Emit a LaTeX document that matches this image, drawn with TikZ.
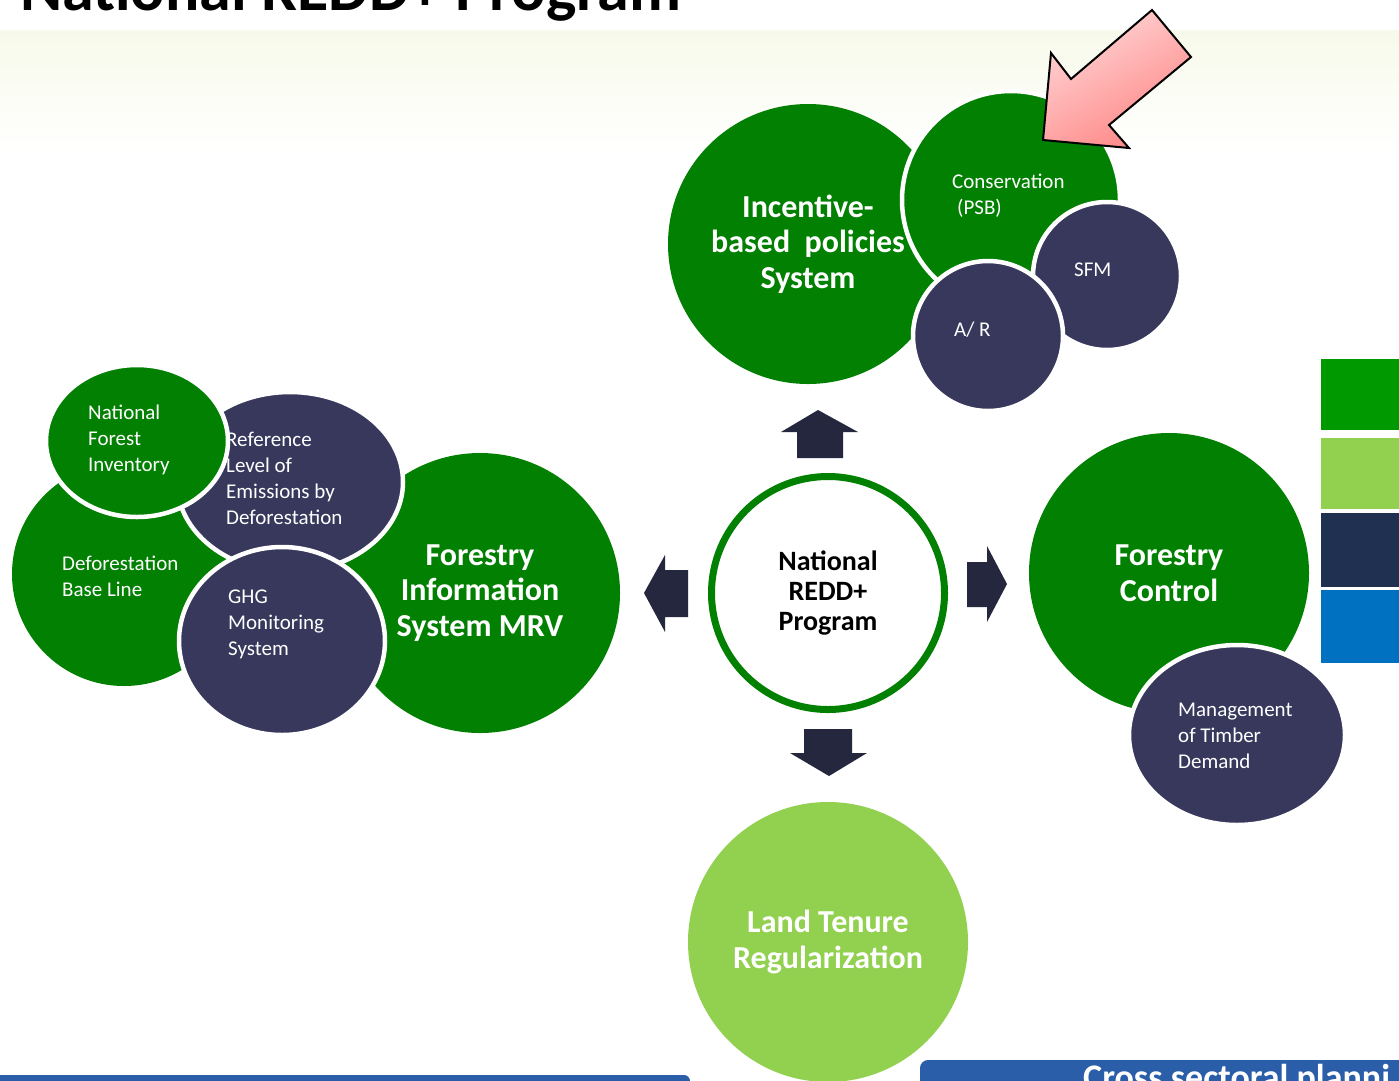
\documentclass[tikz,border=0pt]{standalone}
\usepackage{fontspec}
\setmainfont{Carlito}
\usetikzlibrary{shapes.geometric}
\definecolor{grn}{RGB}{2,128,2}
\definecolor{navy}{RGB}{55,56,92}
\definecolor{arrowc}{RGB}{37,39,63}
\definecolor{lgrn}{RGB}{146,208,80}
\definecolor{barg}{RGB}{0,153,0}
\definecolor{barn}{RGB}{31,48,80}
\definecolor{barb}{RGB}{0,112,192}
\definecolor{stripb}{RGB}{42,94,168}
\definecolor{bgA}{RGB}{247,250,234}
\definecolor{pinkA}{RGB}{255,214,214}
\definecolor{pinkB}{RGB}{255,134,134}
\tikzset{
  bub/.style={circle, inner sep=0pt, minimum size=#1},
  ebub/.style={ellipse, inner sep=0pt},
  wb/.style={draw=white, line width=4.5pt},
  small/.style={font=\fontsize{21}{26}\selectfont, text=white, align=left, inner sep=0pt, anchor=west},
  big/.style={font=\bfseries\fontsize{32}{35.5}\selectfont, text=white, align=center, inner sep=0pt},
  blockarrow/.style={fill=arrowc},
}
\begin{document}
\begin{tikzpicture}[x=1pt,y=-1pt]
\useasboundingbox (0,0) rectangle (1399,1080);
\clip (0,0) rectangle (1399,1080);
\fill[white] (0,0) rectangle (1399,1080);
% faint background
\shade[top color=bgA, bottom color=white] (0,30) rectangle (1399,150);
\fill[white] (0,0) rectangle (748,30);
\node[anchor=base west, inner sep=0pt, font=\bfseries\fontsize{64}{66}\selectfont] (title) at (20,10) {National REDD+ Program};

% side bars
\fill[barg] (1321,359) rectangle (1399,430);
\fill[lgrn] (1321,438) rectangle (1399,509);
\fill[barn] (1321,513) rectangle (1399,587);
\fill[barb] (1321,590) rectangle (1399,663);

% Incentive cluster
\node[bub=280pt, fill=grn] (inc) at (808,244) {};
\node[bub=218pt, fill=grn, wb] (cons) at (1011,200) {};
\node[bub=148pt, fill=navy, wb] (sfm) at (1107,276) {};
\node[bub=150pt, fill=navy, wb] (ar) at (988,336) {};
\node[big] (inct) at (808,244) {Incentive-\\based\ \ policies\\System};
\node[small] (const) at (952,196) {Conservation\\\hspace*{5pt}(PSB)};
\node[small] (sfmt) at (1074,270) {SFM};
\node[small] (art) at (954,330) {A/ R};

% pink arrow
\shadedraw[draw=black, line width=2pt, line join=miter, top color=pinkA, bottom color=pinkB, shading angle=30]
  (1043,140) -- (1051,53) -- (1071,79) -- (1152,10) -- (1191,57) -- (1109,125) -- (1129,148) -- cycle;

% Forestry control
\node[bub=280pt, fill=grn] (fc) at (1169,573) {};
\node[ebub, minimum width=216pt, minimum height=180pt, fill=navy, wb] (mtd) at (1237,735) {};
\node[big] (fct) at (1169,573) {Forestry\\Control};
\node[small] (mtdt) at (1178,736) {Management\\of Timber\\Demand};

% Land tenure
\node[bub=280pt, fill=lgrn] (lt) at (828,942) {};
\node[big] (ltt) at (828,942) {Land Tenure\\Regularization};

% Forestry information cluster
\node[bub=280pt, fill=grn] (fis) at (480,593) {};
\node[bub=224pt, fill=grn] (dbl) at (124,574) {};
\node[ebub, minimum width=226pt, minimum height=180pt, fill=navy, wb] (ref) at (290,482) {};
\node[small] (reft) at (226,478) {Reference\\Level of\\Emissions by\\Deforestation};
\node[ebub, minimum width=182pt, minimum height=152pt, fill=grn, wb] (nfi) at (137,441) {};
\node[ebub, minimum width=206pt, minimum height=188pt, fill=navy, wb] (ghg) at (282,641) {};
\node[small] (nfit) at (88,440) {National\\Forest\\Inventory};
\node[small] (dblt) at (62,576) {Deforestation\\Base Line};
\node[small] (ghgt) at (228,624) {GHG\\Monitoring\\System};
\node[big] (fist) at (480,593) {Forestry\\Information\\System MRV};

% centre
\node[bub=233pt, draw=grn, line width=7pt, fill=white] (ctr) at (828,593) {};
\node[font=\bfseries\fontsize{28}{30}\selectfont, align=center, inner sep=0pt] (ctrt) at (828,593) {National\\REDD+\\Program};

% block arrows
\fill[blockarrow] (818,410) -- (858,432) -- (843,432) -- (843,458) -- (797,458) -- (797,432) -- (781,432) -- cycle;
\fill[blockarrow] (644,593) -- (665,555) -- (665,570) -- (688,570) -- (688,617) -- (665,617) -- (665,632) -- cycle;
\fill[blockarrow] (1007,584) -- (987,546) -- (987,562) -- (967,562) -- (967,607) -- (987,607) -- (987,622) -- cycle;
\fill[blockarrow] (804,729) -- (852,729) -- (852,753) -- (867,753) -- (829,776) -- (790,753) -- (804,753) -- cycle;

% bottom strips
\fill[stripb, rounded corners=6pt] (-10,1075) rectangle (690,1100);
\fill[stripb, rounded corners=8pt] (920,1060) rectangle (1420,1110);
\node[anchor=base west, inner sep=0pt, text=white, font=\bfseries\fontsize{36}{38}\selectfont] (cross) at (1083,1089) {Cross sectoral planni};
\end{tikzpicture}
\end{document}
